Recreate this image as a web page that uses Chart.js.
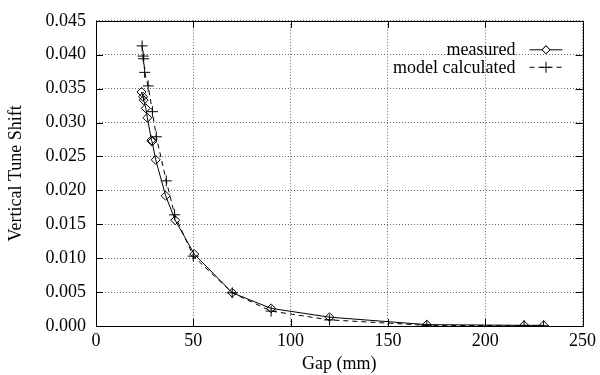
<!DOCTYPE html>
<html>
<head>
<meta charset="utf-8">
<script src="https://cdn.jsdelivr.net/npm/chart.js@4/dist/chart.umd.min.js"></script>
<style>
  html, body { margin: 0; padding: 0; background: #fff; }
  #wrap { width: 600px; height: 375px; }
</style>
</head>
<body>
<div id="wrap"><canvas id="chart" width="600" height="375"></canvas></div>
<script>
// measured vertical tune shift vs gap
const measuredGap = [23.4, 24.2, 24.5, 25.6, 26.4, 28.5, 28.8, 30.7, 35.8, 40.7, 50.5, 70, 90, 120, 170, 220, 230]
const measuredShift = [0.0345, 0.0338, 0.0333, 0.0321, 0.0307, 0.0274, 0.0272, 0.0245, 0.0192, 0.0156, 0.0106, 0.0049, 0.0026, 0.0013, 0.0002, 0.0001, 0.0001]

// model calculated
const modelGap = [23.7, 24.2, 24.5, 25.0, 26.8, 29.0, 31.0, 36.1, 40.4, 50.0, 70, 90, 120, 170, 220, 230]
const modelShift = [0.0413, 0.0398, 0.0394, 0.0374, 0.0354, 0.0316, 0.0279, 0.0214, 0.0164, 0.0103, 0.0049, 0.0022, 0.0009, 0.0001, 0.00004, 0.00003]

const xTicks = [0, 50, 100, 150, 200, 250]
const yTicks = [0, 0.005, 0.010, 0.015, 0.020, 0.025, 0.030, 0.035, 0.040, 0.045]

const FONT = 'Liberation Serif'
const FSIZE = 18

const toPoints = (xs, ys) => xs.map((x, i) => ({x, y: ys[i]}))

// gnuplot style: frame, inward ticks on all four sides, key at top right
const framePlugin = {
    id: 'frame',
    afterDatasetsDraw(chart) {
        const {ctx, chartArea: a, scales} = chart
        ctx.save()
        ctx.strokeStyle = '#000'
        ctx.lineWidth = 1
        ctx.beginPath()
        xTicks.forEach(v => {
            const px = Math.round(scales.x.getPixelForValue(v)) + 0.5
            ctx.moveTo(px, a.bottom); ctx.lineTo(px, a.bottom - 7)
            ctx.moveTo(px, a.top); ctx.lineTo(px, a.top + 7)
        })
        yTicks.forEach(v => {
            const py = Math.round(scales.y.getPixelForValue(v)) + 0.5
            ctx.moveTo(a.left, py); ctx.lineTo(a.left + 7, py)
            ctx.moveTo(a.right, py); ctx.lineTo(a.right - 7, py)
        })
        ctx.stroke()
        ctx.strokeRect(Math.round(a.left) + 0.5, Math.round(a.top) + 0.5,
            Math.round(a.right - a.left), Math.round(a.bottom - a.top))

        // key
        ctx.font = FSIZE + 'px ' + FONT
        ctx.fillStyle = '#000'
        ctx.textAlign = 'right'
        ctx.textBaseline = 'middle'
        const textRight = a.right - 67
        const lineL = a.right - 53, lineR = a.right - 20
        chart.data.datasets.forEach((ds, i) => {
            const y = a.top + 28.5 + i * 17.5
            ctx.fillText(ds.label, textRight, y + 1)
            ctx.beginPath()
            ctx.setLineDash(ds.borderDash || [])
            ctx.moveTo(lineL, y + 0.5); ctx.lineTo(lineR, y + 0.5)
            ctx.stroke()
            ctx.setLineDash([])
            Chart.helpers.drawPoint(ctx, {
                pointStyle: ds.pointStyle, radius: ds.pointStyle === 'rectRot' ? 4 : ds.pointRadius, borderWidth: 1
            }, (lineL + lineR) / 2, y + 0.5)
            if (ds.pointStyle === 'rectRot') {
                ctx.fillStyle = '#fff'
                ctx.fill()
                ctx.stroke()
                ctx.fillStyle = '#000'
            }
        })
        ctx.restore()
    }
}

new Chart(document.getElementById('chart'), {
    type: 'scatter',
    data: {
        datasets: [
            {
                label: 'measured',
                data: toPoints(measuredGap, measuredShift),
                showLine: true,
                borderColor: '#000',
                backgroundColor: 'rgba(255,255,255,0)',
                borderWidth: 1,
                pointStyle: 'rectRot',
                pointRadius: 4.5,
                pointBorderWidth: 1,
                pointBorderColor: '#000',
                pointBackgroundColor: 'rgba(255,255,255,0)'
            },
            {
                label: 'model calculated',
                data: toPoints(modelGap, modelShift),
                showLine: true,
                borderColor: '#000',
                borderDash: [5, 4],
                borderWidth: 1,
                pointStyle: 'cross',
                pointRadius: 5.5,
                pointBorderWidth: 1,
                pointBorderColor: '#000'
            }
        ]
    },
    options: {
        responsive: false,
        animation: false,
        events: [],
        layout: {padding: {top: 12, right: 14, left: 0, bottom: 0}},
        plugins: {
            legend: {display: false},
            tooltip: {enabled: false}
        },
        scales: {
            x: {
                type: 'linear',
                min: 0, max: 250,
                afterBuildTicks: s => { s.ticks = xTicks.map(value => ({value})) },
                afterFit: s => { s.height = 49 },
                border: {display: false, dash: [1, 2]},
                grid: {color: '#666', drawTicks: false, lineWidth: 1},
                ticks: {color: '#000', font: {family: FONT, size: FSIZE}, padding: 4, maxRotation: 0},
                title: {display: true, text: 'Gap (mm)', color: '#000', font: {family: FONT, size: FSIZE}, padding: {top: 0, bottom: 0}}
            },
            y: {
                type: 'linear',
                min: 0, max: 0.045,
                afterBuildTicks: s => { s.ticks = yTicks.map(value => ({value})) },
                afterFit: s => { s.width = 96 },
                border: {display: false, dash: [1, 2]},
                grid: {color: '#666', drawTicks: false, lineWidth: 1},
                ticks: {color: '#000', font: {family: FONT, size: FSIZE}, padding: 10, callback: v => v.toFixed(3)},
                title: {display: true, text: 'Vertical Tune Shift', color: '#000', font: {family: FONT, size: FSIZE}, padding: {top: 5, bottom: 0}}
            }
        }
    },
    plugins: [framePlugin]
})
</script>
</body>
</html>
